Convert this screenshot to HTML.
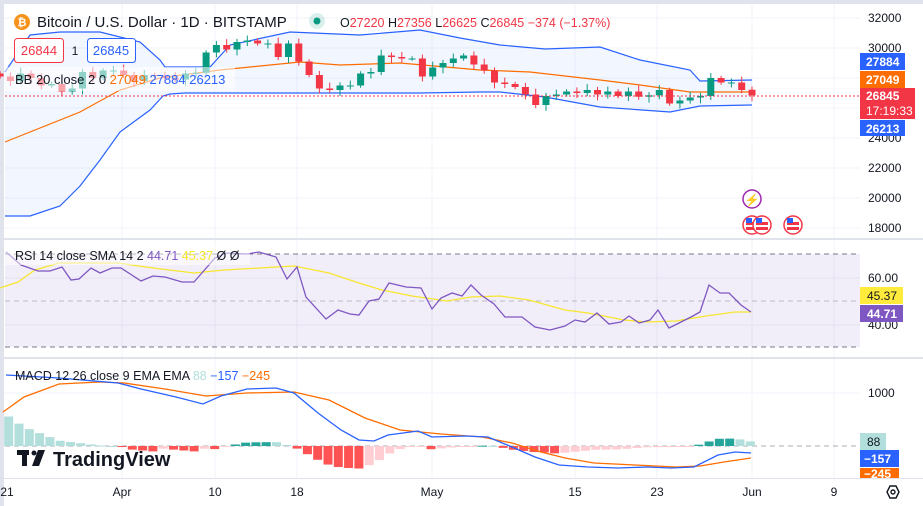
<!DOCTYPE html>
<html><head><meta charset="utf-8"><style>
html,body{margin:0;padding:0;background:#fff;}
body{width:923px;height:506px;overflow:hidden;position:relative;font-family:"Liberation Sans",sans-serif;}
svg{position:absolute;left:0;top:0;}
text{font-family:"Liberation Sans",sans-serif;}
</style></head><body>
<svg id="s" width="923" height="506" viewBox="0 0 923 506" xmlns="http://www.w3.org/2000/svg">
<rect x="0" y="0" width="923" height="506" fill="#fff"/>
<rect x="0" y="0" width="923" height="4" fill="#e0e3eb"/>
<rect x="0" y="0" width="4" height="506" fill="#e0e3eb"/>
<g id="grid" stroke="#f0f3fa" stroke-width="1"></g>
<rect x="5" y="254" width="855" height="93" fill="#7e57c2" fill-opacity="0.1"/>
<line x1="5" x2="860" y1="254" y2="254" stroke="#787b86" stroke-dasharray="5,4"/>
<line x1="5" x2="860" y1="347" y2="347" stroke="#787b86" stroke-dasharray="5,4"/>
<line x1="5" x2="860" y1="301" y2="301" stroke="#9598a1" stroke-opacity="0.6" stroke-dasharray="5,4"/>
<line x1="5" x2="860" y1="446" y2="446" stroke="#9598a1" stroke-opacity="0.8" stroke-dasharray="5,4"/>
<g id="bb"></g>
<g id="candles"></g>
<line x1="5" x2="860" y1="96" y2="96" stroke="#f23645" stroke-dasharray="2,2"/>
<g id="rsi"></g>
<g id="macd"></g>
<rect x="0" y="238" width="923" height="2" fill="#e0e3eb"/>
<rect x="0" y="357" width="923" height="2" fill="#e0e3eb"/>
<rect x="0" y="478" width="923" height="1" fill="#e0e3eb"/>
<circle cx="22" cy="22" r="8" fill="#f7931a"/>
<text x="22" y="26" font-size="11" font-weight="bold" fill="#fff" text-anchor="middle">₿</text>
<text x="37" y="27" font-size="15" fill="#131722">Bitcoin / U.S. Dollar · 1D · BITSTAMP</text>
<circle cx="317" cy="21" r="8" fill="#089981" fill-opacity="0.15"/>
<circle cx="317" cy="21" r="3.5" fill="#089981"/>
<text x="340" y="27" font-size="12.5" fill="#131722">O<tspan fill="#f23645">27220</tspan> H<tspan fill="#f23645">27356</tspan> L<tspan fill="#f23645">26625</tspan> C<tspan fill="#f23645">26845 −374 (−1.37%)</tspan></text>
<rect x="14.5" y="38.5" width="49" height="24" rx="3" fill="#fff" stroke="#f23645"/>
<text x="39" y="55" font-size="13" fill="#f23645" text-anchor="middle">26844</text>
<text x="75" y="55" font-size="12" fill="#131722" text-anchor="middle">1</text>
<rect x="87.5" y="38.5" width="48" height="24" rx="3" fill="#fff" stroke="#2962ff"/>
<text x="111" y="55" font-size="13" fill="#2962ff" text-anchor="middle">26845</text>
<rect x="5" y="67" width="230" height="24" fill="#fff" fill-opacity="0.55"/>
<text x="15" y="84" font-size="13" fill="#131722">BB 20 close 2 0 <tspan fill="#ff6d00">27049</tspan> <tspan fill="#2962ff">27884</tspan> <tspan fill="#2962ff">26213</tspan></text>
<g font-size="12" fill="#131722">
<text x="868" y="22">32000</text><text x="868" y="52">30000</text>
<text x="868" y="142">24000</text><text x="868" y="172">22000</text><text x="868" y="202">20000</text><text x="868" y="232">18000</text>
<text x="868" y="282">60.00</text><text x="868" y="329">40.00</text>
<text x="868" y="397">1000</text>
</g>
<rect x="860" y="53" width="45" height="17" fill="#2962ff"/><text x="866" y="66" font-size="12" font-weight="bold" fill="#fff">27884</text>
<rect x="860" y="71" width="45" height="17" fill="#ff6d00"/><text x="866" y="84" font-size="12" font-weight="bold" fill="#fff">27049</text>
<rect x="860" y="88" width="55" height="31" fill="#f23645"/><text x="866" y="100" font-size="12" font-weight="bold" fill="#fff">26845</text><text x="866" y="115" font-size="12" fill="#fff">17:19:33</text>
<rect x="860" y="120" width="45" height="16" fill="#2962ff"/><text x="866" y="133" font-size="12" font-weight="bold" fill="#fff">26213</text>
<rect x="860" y="287" width="43" height="17" fill="#ffeb3b"/><text x="867" y="300" font-size="12" fill="#131722">45.37</text>
<rect x="860" y="305" width="43" height="17" fill="#7e57c2"/><text x="867" y="318" font-size="12" font-weight="bold" fill="#fff">44.71</text>
<rect x="860" y="433" width="26" height="17" fill="#b2dfdb"/><text x="867" y="446" font-size="12" fill="#131722">88</text>
<rect x="860" y="450" width="39" height="17" fill="#2962ff"/><text x="864" y="463" font-size="12" font-weight="bold" fill="#fff">−157</text>
<rect x="860" y="468" width="39" height="10" fill="#ff6d00"/><text x="864" y="478" font-size="12" font-weight="bold" fill="#fff">−245</text>
<circle cx="752" cy="199" r="9" fill="#fff" stroke="#9c27b0" stroke-width="1.5"/><text x="752" y="204" font-size="12" fill="#9c27b0" text-anchor="middle">⚡</text>
<g id="flags"></g>
<rect x="5" y="245" width="245" height="20" fill="#fff" fill-opacity="0.5"/>
<text x="15" y="260" font-size="12.5" fill="#131722">RSI 14 close SMA 14 2 <tspan fill="#7e57c2">  44.71</tspan> <tspan fill="#f7e62d">45.37</tspan> Ø  Ø</text>
<text x="15" y="380" font-size="12.5" fill="#131722">MACD 12 26 close 9 EMA EMA <tspan fill="#b2dfdb">  88</tspan> <tspan fill="#2962ff">−157</tspan> <tspan fill="#ff6d00">−245</tspan></text>
<rect x="17" y="450" width="12" height="5" fill="#131722"/><rect x="22" y="450" width="5" height="16" fill="#131722"/><circle cx="34" cy="453" r="2.5" fill="#131722"/><path d="M38 450 L45 450 L39 466 L32 466 Z" fill="#131722"/>
<text x="53" y="466" font-size="20" font-weight="bold" fill="#131722">TradingView</text>
<g font-size="12" fill="#131722" text-anchor="middle">
<text x="7" y="496">21</text><text x="122" y="496">Apr</text><text x="215" y="496">10</text><text x="297" y="496">18</text><text x="432" y="496">May</text><text x="575" y="496">15</text><text x="657" y="496">23</text><text x="752" y="496">Jun</text><text x="834" y="496">9</text>
</g>
<polygon points="890,486 896,486 899,492 896,498 890,498 887,492" fill="none" stroke="#131722" stroke-width="1.4"/><circle cx="893" cy="492" r="2" fill="none" stroke="#131722" stroke-width="1.4"/>
</svg>
<script>
const NS="http://www.w3.org/2000/svg";
function el(p,t,a){const e=document.createElementNS(NS,t);for(const k in a)e.setAttribute(k,a[k]);document.getElementById(p).appendChild(e);return e;}
function pl(p,pts,c,w,fill){return el(p,fill?'polygon':'polyline',{points:pts.map(q=>q.join(',')).join(' '),fill:fill||'none',stroke:c,'stroke-width':w,'fill-opacity':fill?0.06:1});}
[122,215,297,432,575,657,752,834].forEach(x=>el('grid','line',{x1:x,x2:x,y1:4,y2:478}));
[18,48,78,108,138,168,198,228,278,325,393].forEach(y=>el('grid','line',{x1:5,x2:860,y1:y,y2:y}));
const up=[[5,72],[30,35],[60,32],[100,32],[140,42],[160,60],[165,67],[210,67],[230,45],[290,32],[360,35],[420,30],[460,38],[500,45],[545,49],[600,47],[640,60],[690,70],[700,81],[752,80]];
const lo=[[5,216],[30,216],[60,206],[80,186],[100,160],[120,132],[150,110],[163,96],[170,94],[185,93],[300,93],[420,93],[480,92],[500,92],[545,97],[600,107],[670,112],[700,106],[752,105]];
pl('bb',up.concat(lo.slice().reverse()),'none',0,'#2962ff');
pl('bb',up,'#2962ff',1.2);pl('bb',lo,'#2962ff',1.2);
pl('bb',[[5,142],[40,128],[80,112],[120,90],[160,78],[220,70],[300,62],[340,65],[400,63],[480,70],[530,72],[600,80],[640,85],[690,92],[720,92],[752,92]],'#ff6d00',1.2);
const cl=[28100,27800,28300,28000,27500,27600,27100,27300,28400,28000,28500,
28500,28200,27800,28200,28150,28000,27900,28300,28350,29700,30200,29900,30400,30500,30300,30300,29400,30300,29100,28200,27300,27200,27500,27500,28300,28400,29500,29400,29300,29300,
28100,28700,29000,29300,29500,28900,28500,27700,27600,27400,26900,26200,26800,26900,27100,27000,27200,26900,27100,26800,27100,26750,26850,27200,26300,26500,26700,26800,28000,27700,27700,27200,
26845];
const py=p=>48+(30000-p)*0.015;
const n=cl.length;
let prev=cl[0]+200;
cl.forEach((c,i)=>{const x=752-(n-1-i)*10.3;const o=(i==n-1)?27220:prev;const col=c>=o?'#089981':'#f23645';
const hi=Math.max(o,c)+150+((i*37)%5)*60,lw=Math.min(o,c)-150-((i*53)%5)*60;
el('candles','line',{x1:x,x2:x,y1:py(hi),y2:py(lw),stroke:col,'stroke-width':1});
const t=py(Math.max(o,c)),b=py(Math.min(o,c));el('candles','rect',{x:x-3.5,y:t,width:7,height:Math.max(1,b-t),fill:col});prev=c;});
pl('rsi',[[0,288],[18,282],[35,270],[59,263],[118,263],[153,268],[194,273],[224,270],[259,268],[294,266],[329,273],[359,283],[382,290],[412,296],[447,301],[471,297],[500,296],[529,300],[565,310],[588,313],[624,320],[647,322],[676,321],[706,316],[735,312],[751,312]],'#f7e62d',1.3);
pl('rsi',[[6,252],[21,265],[38,271],[50,271],[62,267],[71,280],[79,279],[91,268],[100,273],[112,268],[121,268],[141,281],[153,276],[165,277],[182,282],[194,282],[215,258],[226,253],[247,254],[259,252],[276,257],[287,279],[297,267],[306,297],[326,319],[338,310],[350,314],[359,315],[369,301],[379,299],[389,283],[406,287],[421,288],[432,309],[441,298],[452,293],[462,296],[471,285],[481,295],[494,304],[505,317],[522,317],[535,327],[550,330],[565,326],[575,320],[585,322],[597,313],[609,324],[621,322],[629,316],[639,323],[650,320],[658,310],[669,328],[679,323],[691,317],[700,312],[709,285],[720,293],[729,293],[741,305],[751,312]],'#7e57c2',1.3);
const bl=[[6,375],[59,378],[118,383],[141,389],[176,397],[203,404],[221,396],[247,389],[276,388],[294,393],[318,413],[341,430],[359,440],[374,441],[388,435],[418,431],[432,437],[465,436],[488,437],[512,447],[535,457],[559,465],[588,467],[618,468],[647,467],[671,468],[694,467],[718,455],[735,452],[751,453]];
const or=[[3,412],[24,397],[59,384],[100,382],[124,383],[165,389],[206,396],[247,393],[294,392],[329,400],[365,418],[400,430],[441,434],[482,437],[512,443],[541,452],[565,458],[594,463],[635,465],[676,467],[700,466],[724,462],[751,458]];
function interp(a,x){for(let i=0;i<a.length-1;i++){if(x>=a[i][0]&&x<=a[i+1][0]){const t=(x-a[i][0])/(a[i+1][0]-a[i][0]);return a[i][1]+t*(a[i+1][1]-a[i][1]);}}return x<a[0][0]?a[0][1]:a[a.length-1][1];}
let ph=null;
for(let d=-11;d<=61;d++){const x=122+d*10.3;let h=(interp(or,x)-interp(bl,x));if(d>=1&&d<=8)h=-3-(d%4);h*=0.9;
let col;if(h>=0)col=(ph!==null&&h>=ph)?'#26a69a':'#b2dfdb';else col=(ph!==null&&h<=ph)?'#ff5252':'#ffcdd2';
ph=h;const y=h>=0?446-h:446;el('macd','rect',{x:x-4.5,y:y,width:9,height:Math.max(1,Math.abs(h)),fill:col});}
pl('macd',or,'#ff6d00',1.3);pl('macd',bl,'#2962ff',1.3);
[752,762,793].forEach(x=>{el('flags','circle',{cx:x,cy:225,r:9,fill:'#fff',stroke:'#f23645','stroke-width':1.5});
el('flags','rect',{x:x-6,y:222,width:12,height:3,fill:'#f23645'});el('flags','rect',{x:x-6,y:227,width:12,height:3,fill:'#f23645'});el('flags','rect',{x:x-6,y:218,width:6,height:5,fill:'#2962ff'});});
</script>
</body></html>
